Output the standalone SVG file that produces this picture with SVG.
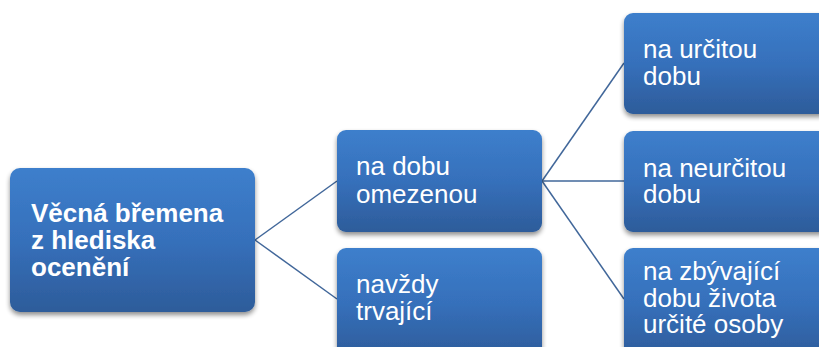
<svg xmlns="http://www.w3.org/2000/svg" width="819" height="347" viewBox="0 0 819 347">
<defs>
<linearGradient id="g" x1="0" y1="0" x2="0" y2="1">
<stop offset="0" stop-color="#3d7fcc"/>
<stop offset="0.5" stop-color="#3670bb"/>
<stop offset="1" stop-color="#2d5c9a"/>
</linearGradient>
<filter id="sh" x="-10%" y="-10%" width="120%" height="130%">
<feGaussianBlur in="SourceAlpha" stdDeviation="2.5"/>
<feOffset dx="0" dy="3" result="b"/>
<feComponentTransfer><feFuncA type="linear" slope="0.45"/></feComponentTransfer>
<feMerge><feMergeNode/><feMergeNode in="SourceGraphic"/></feMerge>
</filter>
</defs>
<style>
.box{fill:url(#g);filter:url(#sh);}
.t{fill:#fff;font-family:"Liberation Sans",Arial,sans-serif;font-size:26px;}
.b{font-weight:bold;}
.c{stroke:#41679a;stroke-width:1.5;fill:none;}
</style>
<rect width="819" height="347" fill="#fff"/>
<g id="connectors">
<line class="c" x1="255" y1="240" x2="337" y2="181"/>
<line class="c" x1="255" y1="240" x2="337" y2="299"/>
<line class="c" x1="542" y1="181" x2="624" y2="63"/>
<line class="c" x1="542" y1="181" x2="624" y2="181"/>
<line class="c" x1="542" y1="181" x2="624" y2="299"/>
</g>
<g id="root">
<rect class="box" x="10" y="168" width="245" height="144" rx="10"/>
<text class="t b" x="31" y="222">Věcná břemena</text>
<text class="t b" x="31" y="249">z hlediska</text>
<text class="t b" x="31" y="276">ocenění</text>
</g>
<g id="n1">
<rect class="box" x="337" y="130" width="205" height="102" rx="9"/>
<text class="t" x="356" y="175">na dobu</text>
<text class="t" x="356" y="203">omezenou</text>
</g>
<g id="n2">
<rect class="box" x="337" y="248" width="205" height="110" rx="9"/>
<text class="t" x="356" y="293">navždy</text>
<text class="t" x="356" y="320">trvající</text>
</g>
<g id="n3">
<rect class="box" x="624" y="13" width="205" height="101" rx="9"/>
<text class="t" x="643" y="58">na určitou</text>
<text class="t" x="643" y="85">dobu</text>
</g>
<g id="n4">
<rect class="box" x="624" y="131" width="205" height="101" rx="9"/>
<text class="t" x="643" y="177">na neurčitou</text>
<text class="t" x="643" y="203">dobu</text>
</g>
<g id="n5">
<rect class="box" x="624" y="248" width="205" height="110" rx="9"/>
<text class="t" x="643" y="280">na zbývající</text>
<text class="t" x="643" y="307">dobu života</text>
<text class="t" x="643" y="333">určité osoby</text>
</g>
</svg>
